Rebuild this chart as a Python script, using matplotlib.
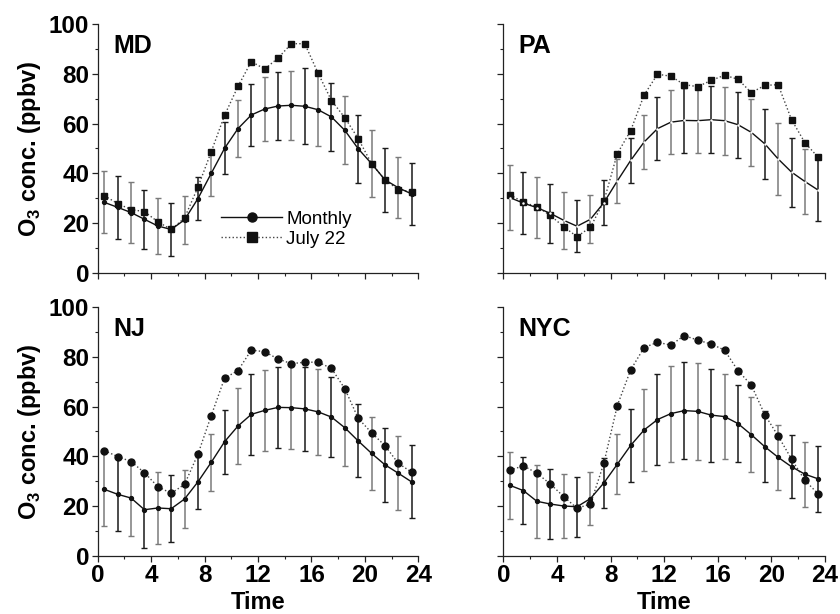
import numpy as np
import matplotlib
matplotlib.use('Agg')
import matplotlib.pyplot as plt
from matplotlib.lines import Line2D
from matplotlib.ticker import MultipleLocator

hours = np.arange(24) + 0.5

md_monthly = [28.3, 26.3, 24.2, 21.5, 18.8, 17.4, 21.3, 29.8, 40.0, 50.1, 58.0, 63.5,
              65.9, 67.1, 67.4, 67.0, 65.6, 62.7, 57.3, 49.9, 43.9, 37.4, 34.2, 31.7]
md_sd = [12.5, 12.8, 12.2, 11.8, 11.2, 10.8, 9.7, 8.6, 9.0, 10.5, 11.6, 12.4,
         13.0, 13.5, 14.0, 15.3, 14.7, 13.8, 13.7, 13.6, 13.6, 13.0, 12.3, 12.5]
md_july = [31.0, 27.8, 25.4, 24.6, 20.5, 17.4, 22.0, 34.4, 48.7, 63.4, 75.0, 85.0,
           82.0, 86.4, 92.2, 92.2, 80.3, 69.3, 62.4, 54.0, 43.9, 37.4, 33.4, 32.6]

pa_monthly = [30.2, 28.0, 26.2, 23.9, 21.1, 18.7, 21.5, 28.2, 36.9, 45.2, 52.6, 58.0,
              60.6, 61.3, 61.2, 61.6, 61.2, 59.6, 56.5, 51.9, 45.8, 40.5, 36.7, 33.2]
pa_sd = [13.1, 12.4, 12.4, 12.0, 11.4, 10.4, 9.6, 9.1, 9.0, 9.2, 10.9, 12.7,
         12.8, 13.0, 13.1, 13.6, 13.7, 13.3, 13.4, 14.2, 14.5, 13.9, 13.2, 12.5]
pa_july = [31.4, 28.3, 26.6, 23.1, 18.5, 14.5, 18.3, 28.7, 47.9, 57.2, 71.5, 79.9,
           79.1, 75.7, 74.9, 77.4, 79.5, 77.9, 72.5, 75.4, 75.7, 61.6, 52.3, 46.4]

nj_monthly = [26.7, 24.7, 23.2, 18.5, 19.2, 18.9, 22.8, 29.7, 37.6, 45.9, 52.2, 56.9,
              58.5, 59.7, 59.6, 59.1, 57.9, 55.8, 51.5, 46.2, 41.2, 36.6, 33.2, 29.7]
nj_sd = [14.9, 14.9, 15.4, 15.3, 14.3, 13.4, 11.6, 10.8, 11.4, 12.9, 15.4, 16.3,
         16.4, 16.3, 16.8, 17.0, 17.2, 16.0, 15.3, 14.7, 14.8, 15.0, 14.8, 14.7]
nj_july = [42.3, 39.9, 37.9, 33.4, 27.8, 25.1, 28.7, 40.8, 56.4, 71.5, 74.5, 82.8,
           82.1, 79.2, 77.3, 77.9, 77.9, 75.4, 67.2, 55.3, 49.5, 44.3, 37.2, 33.6]

nyc_monthly = [28.3, 26.2, 21.9, 20.8, 20.0, 19.7, 23.0, 29.3, 36.8, 44.4, 50.6, 54.8,
               57.2, 58.4, 58.1, 56.6, 56.0, 53.2, 48.7, 43.9, 39.6, 35.8, 32.8, 30.9]
nyc_sd = [13.4, 13.6, 14.6, 14.0, 12.9, 12.0, 10.8, 10.0, 12.0, 14.6, 16.7, 18.2,
          19.3, 19.4, 19.6, 18.7, 17.2, 15.6, 15.2, 14.4, 13.0, 12.6, 13.1, 13.2]
nyc_july = [34.4, 36.2, 33.2, 28.9, 23.8, 19.1, 20.8, 37.2, 60.4, 74.8, 83.8, 85.9,
            84.8, 88.6, 86.8, 85.2, 82.8, 74.5, 68.7, 56.8, 48.2, 38.9, 30.3, 24.8]

plt.rcParams['font.family'] = ['Liberation Sans', 'DejaVu Sans']
plt.rcParams['mathtext.fontset'] = 'custom'
plt.rcParams['mathtext.rm'] = 'Liberation Sans'
plt.rcParams['mathtext.bf'] = 'Liberation Sans:bold'

fig = plt.figure(figsize=(8.4, 6.14), dpi=100)

ax_md = fig.add_axes([0.1163, 0.5559, 0.3817, 0.4045])
ax_pa = fig.add_axes([0.5992, 0.5559, 0.3830, 0.4045])
ax_nj = fig.add_axes([0.1163, 0.0950, 0.3817, 0.4045])
ax_nyc = fig.add_axes([0.5992, 0.0950, 0.3830, 0.4045])


def panel(ax, name, monthly, sd, july, jmarker, jsize, mon_marker=True):
    monthly = np.array(monthly)
    sd = np.array(sd)
    # scanned look: bars alternate gray / black
    for k, col in [(0, '#7a7a7a'), (1, '#1a1a1a')]:
        idx = np.arange(k, 24, 2)
        ax.errorbar(hours[idx], monthly[idx], yerr=sd[idx], fmt='none',
                    ecolor=col, elinewidth=1.1, capsize=2.2, capthick=1.0, zorder=2)
    ax.plot(hours, july, linestyle=':', color='#444444', linewidth=1.0,
            marker=jmarker, markersize=jsize, markerfacecolor='#111111',
            markeredgecolor='#111111', zorder=3)
    if mon_marker:
        ax.plot(hours, monthly, '-', color='#111111', linewidth=1.0,
                marker='o', markersize=2.8, zorder=4)
    else:
        ax.plot(hours, monthly, '-', color='#111111', linewidth=1.0,
                marker='o', markersize=1.8, markerfacecolor='white',
                markeredgecolor='none', zorder=4)

    ax.set_xlim(0, 24)
    ax.set_ylim(0, 100)
    ax.spines['top'].set_visible(False)
    ax.spines['right'].set_visible(False)
    for s in ['left', 'bottom']:
        ax.spines[s].set_linewidth(0.9)
        ax.spines[s].set_color('#222222')
    ax.xaxis.set_major_locator(MultipleLocator(4))
    ax.xaxis.set_minor_locator(MultipleLocator(2))
    ax.yaxis.set_major_locator(MultipleLocator(20))
    ax.yaxis.set_minor_locator(MultipleLocator(10))
    ax.tick_params(which='major', direction='out', length=4, width=0.9,
                   labelsize=17.5, color='#222222', pad=2)
    ax.tick_params(which='minor', direction='out', length=2.5, width=0.8,
                   color='#222222')
    for lab in ax.get_xticklabels() + ax.get_yticklabels():
        lab.set_fontweight('bold')
    ax.text(0.048, 0.962, name, transform=ax.transAxes, ha='left', va='top',
            fontsize=18, fontweight='bold')


panel(ax_md, 'MD', md_monthly, md_sd, md_july, 's', 4.6)
panel(ax_pa, 'PA', pa_monthly, pa_sd, pa_july, 's', 4.6, mon_marker=False)
panel(ax_nj, 'NJ', nj_monthly, nj_sd, nj_july, 'o', 5.0)
panel(ax_nyc, 'NYC', nyc_monthly, nyc_sd, nyc_july, 'o', 5.0)

for ax in [ax_md, ax_pa]:
    ax.tick_params(labelbottom=False)
for ax in [ax_pa, ax_nyc]:
    ax.tick_params(labelleft=False)

for ax in [ax_md, ax_nj]:
    ax.set_ylabel(r'O$_{\mathbf{3}}$ conc. (ppbv)', fontsize=17,
                  fontweight='bold', labelpad=4)
for ax in [ax_nj, ax_nyc]:
    ax.set_xlabel('Time', fontsize=17, fontweight='bold', labelpad=3)

handles = [
    Line2D([], [], color='#111111', linestyle='-', linewidth=1.0,
           marker='o', markersize=6.5),
    Line2D([], [], color='#444444', linestyle=':', linewidth=1.0,
           marker='s', markersize=6.5, markerfacecolor='#111111',
           markeredgecolor='#111111'),
]
ax_md.legend(handles, ['Monthly', 'July 22'], loc='upper left',
             bbox_to_anchor=(0.36, 0.28), frameon=False, fontsize=13.5,
             handlelength=3.3, handletextpad=0.2, labelspacing=0.15,
             borderaxespad=0)

fig.savefig('out.png', dpi=100)
